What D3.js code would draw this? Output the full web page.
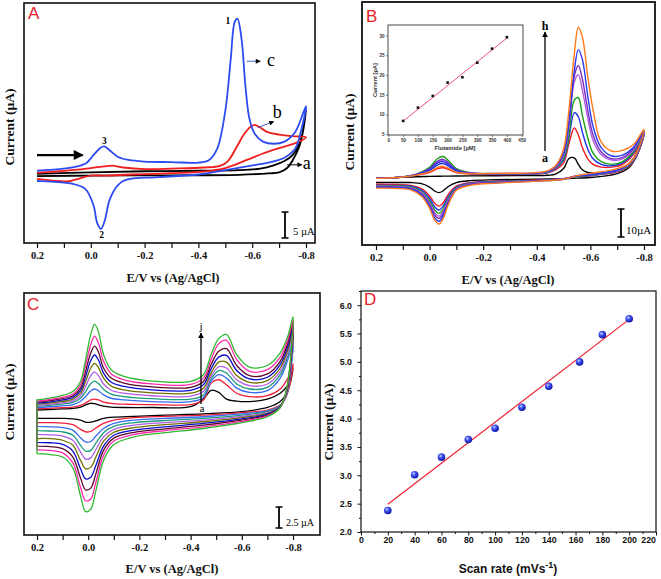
<!DOCTYPE html>
<html><head><meta charset="utf-8">
<script src="https://cdn.jsdelivr.net/npm/d3@7"></script>
<style>body{margin:0;background:#fff}svg{display:block}</style>
</head><body><svg id="c" width="661" height="579"></svg>
<script>
// ---------------- DATA ----------------
const cvTicks = [0.2, 0.1, 0, -0.1, -0.2, -0.3, -0.4, -0.5, -0.6, -0.7, -0.8];
const cvTickLabels = ["0.2", "0.0", "-0.2", "-0.4", "-0.6", "-0.8"];

// Panel A : [E (V), I (µA)] forward sweep then reverse sweep
const aCurveA = [[0.2,-0.2],[0.0,0.1],[-0.2,0.3],[-0.4,0.4],[-0.55,0.5],[-0.63,0.8],[-0.68,1.4],[-0.72,2.2],[-0.75,3.3],[-0.78,6.0],[-0.8,11.7],
  [-0.79,8.0],[-0.775,4.9],[-0.75,2.3],[-0.73,0.9],[-0.7,0.1],[-0.66,-0.1],[-0.55,-0.35],[-0.3,-0.45],[0.0,-0.5],[0.2,-0.6]];
const aCurveB = [[0.2,0.0],[0.12,0.3],[0.05,0.6],[0.0,0.9],[-0.05,1.2],[-0.08,1.35],[-0.12,1.0],[-0.2,0.7],[-0.3,0.8],[-0.42,1.0],[-0.48,1.3],[-0.51,2.2],[-0.54,4.6],[-0.57,7.2],[-0.595,8.6],[-0.61,8.9],[-0.63,8.4],[-0.655,7.6],[-0.7,7.1],[-0.75,6.8],[-0.8,6.6],
  [-0.77,5.7],[-0.7,4.6],[-0.64,3.6],[-0.58,2.4],[-0.5,0.9],[-0.42,0.25],[-0.3,-0.05],[-0.15,-0.3],[-0.05,-0.5],[0.0,-0.5],[0.04,-1.0],[0.08,-1.55],[0.12,-1.5],[0.2,-1.1]];
const aCurveC = [[0.2,0.4],[0.1,0.8],[0.05,1.2],[0.015,1.9],[-0.01,3.3],[-0.035,4.6],[-0.05,4.9],[-0.07,4.2],[-0.1,3.0],[-0.14,2.4],[-0.2,2.1],[-0.3,2.0],[-0.4,1.9],[-0.44,2.4],[-0.47,4.5],[-0.5,11.5],[-0.52,21],[-0.535,28],[-0.545,28.6],[-0.56,25],[-0.575,16],[-0.59,10],[-0.61,7.2],[-0.64,5.8],[-0.68,5.4],[-0.72,5.8],[-0.76,7.6],[-0.8,12.4],
  [-0.78,7.5],[-0.76,4.5],[-0.72,2.8],[-0.66,1.9],[-0.58,1.2],[-0.5,0.5],[-0.4,-0.3],[-0.25,-0.8],[-0.13,-1.3],[-0.1,-2.3],[-0.07,-5.0],[-0.052,-8.8],[-0.038,-10.4],[-0.024,-9.3],[-0.01,-6.0],[0.02,-3.0],[0.07,-2.0],[0.2,-1.5]];

// Panel B : 8 concentrations a..h, shared potential grids
const bLabels = ["a","b","c","d","e","f","g","h"];
const bEf = [0.2,0.12,0.05,0.0,-0.03,-0.05,-0.07,-0.1,-0.15,-0.25,-0.38,-0.44,-0.47,-0.5,-0.52,-0.54,-0.555,-0.57,-0.59,-0.61,-0.64,-0.68,-0.72,-0.76,-0.8];
const bFwd = [
  [-0.5,-0.2,0.1,0.2,0.25,0.3,0.3,0.35,0.4,0.45,0.5,0.6,1.0,3.0,6.6,6.8,4.5,2.6,1.6,1.4,1.4,1.8,3.0,6.5,15],
  [-0.5,-0.2,0.6,1.65,3.0,3.3,2.7,1.55,1.05,0.9,1.0,1.5,2.5,5,12,17.5,15,10.5,6.5,4.5,3.5,3.5,4.5,8,15],
  [-0.5,-0.2,0.75,2.3,4.35,4.8,3.9,2.1,1.25,1.0,1.1,1.6,3,6,14,23,21.5,16,10,6.5,4.5,4,5,8.5,15.5],
  [-0.5,-0.2,1.0,3.45,6.6,7.3,5.9,2.95,1.55,1.1,1.2,1.7,3.2,6.5,15,27.5,28.3,22,14,8.5,5.5,4.5,5.5,9,15.5],
  [-0.5,-0.2,0.85,2.8,5.25,5.8,4.7,2.45,1.4,1.15,1.25,1.8,3.4,7.5,18,34,36.5,31,21,13,8,6,6.5,9.5,16],
  [-0.5,-0.2,0.9,3.0,5.7,6.3,5.1,2.6,1.45,1.2,1.3,1.9,3.6,8,19,36,39.8,35,24,15,9,6.5,7,10,16],
  [-0.5,-0.2,0.8,2.65,5.0,5.5,4.45,2.3,1.35,1.25,1.35,2.0,3.8,8.5,20,38,45.5,42,29,18,10.5,7.5,7.8,10.5,16.5],
  [-0.5,-0.2,0.65,1.9,3.45,3.8,3.1,1.7,1.2,1.3,1.45,2.2,4,10,24,44,53.5,50,36,24,12.5,9.2,9.5,11.5,17]
];
const bEr = [-0.8,-0.77,-0.74,-0.7,-0.65,-0.6,-0.55,-0.5,-0.4,-0.25,-0.15,-0.1,-0.07,-0.05,-0.035,-0.02,0.0,0.03,0.07,0.12,0.2];
const bRev = [
  [15,7,3,1.2,0.3,-0.2,-0.4,-0.6,-0.8,-1.0,-1.3,-2.0,-3.4,-5.0,-5.6,-5.1,-3.6,-2.4,-2.0,-2.0,-2.0],
  [15,7,3.5,1.8,1.0,0.4,0.2,-0.6,-1.1,-1.5,-2.0,-3.3,-6.2,-9.3,-10.4,-9.5,-6.8,-4.2,-3.0,-2.7,-2.6],
  [15.5,7.2,3.7,2.0,1.1,0.5,0.3,-0.6,-1.2,-1.6,-2.2,-3.6,-7.0,-10.5,-11.8,-10.8,-7.7,-4.7,-3.3,-3.0,-2.9],
  [15.5,7.4,3.8,2.1,1.2,0.6,0.3,-0.7,-1.3,-1.75,-2.4,-3.9,-7.7,-11.6,-13.0,-11.9,-8.5,-5.2,-3.6,-3.2,-3.1],
  [16,7.6,4.0,2.2,1.3,0.7,0.4,-0.7,-1.35,-1.85,-2.5,-4.1,-8.2,-12.4,-14.0,-12.9,-9.2,-5.6,-3.8,-3.4,-3.3],
  [16,7.7,4.1,2.3,1.4,0.75,0.4,-0.75,-1.4,-1.95,-2.65,-4.3,-8.7,-13.1,-14.8,-13.7,-9.8,-6.0,-4.1,-3.6,-3.5],
  [16.5,7.9,4.3,2.5,1.5,0.8,0.45,-0.8,-1.45,-2.05,-2.8,-4.5,-9.2,-14.0,-15.8,-14.7,-10.5,-6.4,-4.3,-3.8,-3.7],
  [17,8,4.5,3.0,2.0,1.3,0.5,-0.8,-1.5,-2.2,-3.0,-4.7,-9.8,-15.0,-16.8,-15.6,-11.2,-6.9,-4.6,-4.1,-4.0]
];
// Inset of B
const flutamide = [50,100,150,200,250,300,350,400];
const insetCurrent = [8.37,11.74,14.7,18.1,19.45,23.15,26.7,29.6];
const insetFitX = [50,400];
const insetFitY = [8.3,29.4];
const insetXTicks = [0,50,100,150,200,250,300,350,400,450];
const insetYTicks = [5,10,15,20,25,30];

// Panel C : 10 scan rates a..j
const cLabels = ["a","b","c","d","e","f","g","h","i","j"];
const cEf = [0.2,0.12,0.06,0.03,0.01,-0.01,-0.025,-0.04,-0.06,-0.09,-0.14,-0.25,-0.4,-0.45,-0.48,-0.51,-0.54,-0.58,-0.63,-0.7,-0.75,-0.78,-0.8];
const cFwd = [
  [0,0.1,0.2,0.35,0.6,0.8,0.75,0.6,0.45,0.35,0.3,0.3,0.4,1.3,2.35,2.1,1.3,1.05,1.0,1.3,2.0,3.0,5.0],
  [0.15,0.25,0.35,0.55,0.85,1.2,1.3,1.2,0.95,0.8,0.7,0.65,0.65,1.2,3.2,3.6,3.0,2.0,1.6,1.7,2.5,3.8,5.5],
  [0.3,0.45,0.65,1.05,1.6,2.3,2.5,2.3,1.8,1.4,1.2,1.0,1.0,1.5,3.4,4.2,3.8,2.6,2.1,2.3,3.8,6.0,8.0],
  [0.45,0.65,0.9,1.4,2.2,3.15,3.45,3.15,2.45,1.9,1.6,1.35,1.3,1.8,3.7,4.7,4.4,3.1,2.5,2.7,4.2,6.4,8.5],
  [0.55,0.8,1.1,1.7,2.8,4.1,4.5,4.1,3.1,2.35,2.0,1.7,1.65,2.2,4.0,5.15,5.0,3.6,2.9,3.1,4.6,6.8,9.0],
  [0.7,0.95,1.3,2.0,3.4,5.0,5.55,5.05,3.8,2.85,2.4,2.05,2.0,2.6,4.4,5.7,5.7,4.1,3.3,3.5,5.0,7.2,9.5],
  [0.8,1.1,1.5,2.3,4.0,5.9,6.55,5.95,4.4,3.3,2.8,2.4,2.35,3.0,4.9,6.3,6.5,4.7,3.7,3.9,5.4,7.6,10.0],
  [0.95,1.25,1.7,2.6,4.6,6.8,7.6,6.9,5.0,3.8,3.2,2.75,2.7,3.4,5.4,7.0,7.3,5.3,4.1,4.3,5.8,8.0,10.3],
  [1.05,1.4,1.9,3.0,5.3,7.8,8.8,8.0,5.8,4.3,3.6,3.1,3.05,3.8,6.0,7.9,8.3,6.0,4.6,4.8,6.3,8.4,10.7],
  [1.2,1.6,2.2,3.4,6.0,9.0,10.2,9.3,6.6,4.8,4.0,3.45,3.4,4.2,6.6,8.5,9.0,6.6,5.1,5.3,6.8,8.8,11.1]
];
const cEr = [-0.8,-0.79,-0.775,-0.75,-0.7,-0.6,-0.45,-0.3,-0.18,-0.1,-0.06,-0.03,-0.01,0.01,0.03,0.06,0.1,0.15,0.2];
const cRev = [
  [5.0,3.3,2.0,1.0,0.3,-0.2,-0.45,-0.6,-0.75,-0.85,-1.0,-1.3,-1.45,-1.45,-1.2,-1.05,-1.0,-1.0,-1.0],
  [5.5,3.4,1.7,0.6,0.0,-0.3,-0.6,-0.75,-0.9,-1.2,-1.6,-2.15,-2.55,-2.6,-2.3,-1.75,-1.55,-1.5,-1.5],
  [8.0,4.4,1.8,0.55,-0.1,-0.45,-0.8,-1.0,-1.2,-1.6,-2.2,-3.1,-3.75,-3.8,-3.3,-2.4,-2.1,-2.0,-1.95],
  [8.5,4.7,1.9,0.5,-0.2,-0.6,-1.0,-1.25,-1.5,-1.95,-2.7,-3.95,-4.8,-4.9,-4.2,-3.0,-2.6,-2.5,-2.45],
  [9.0,5.0,2.0,0.45,-0.3,-0.75,-1.2,-1.5,-1.8,-2.3,-3.2,-4.7,-5.7,-5.85,-5.0,-3.6,-3.1,-2.95,-2.9],
  [9.5,5.2,2.1,0.4,-0.4,-0.9,-1.4,-1.75,-2.1,-2.65,-3.7,-5.6,-6.8,-7.0,-6.0,-4.2,-3.6,-3.4,-3.4],
  [10.0,5.4,2.2,0.4,-0.5,-1.05,-1.6,-2.0,-2.4,-3.0,-4.3,-6.6,-8.0,-8.2,-7.0,-4.9,-4.1,-3.9,-3.85],
  [10.3,5.6,2.3,0.35,-0.6,-1.2,-1.8,-2.25,-2.65,-3.35,-4.8,-7.6,-9.3,-9.5,-8.1,-5.6,-4.6,-4.35,-4.3],
  [10.7,5.8,2.4,0.3,-0.7,-1.35,-2.0,-2.45,-2.9,-3.7,-5.4,-8.6,-10.6,-10.8,-9.2,-6.3,-5.1,-4.8,-4.75],
  [11.1,6.0,2.5,0.3,-0.8,-1.5,-2.2,-2.7,-3.2,-4.1,-6.0,-9.6,-11.8,-12.1,-10.2,-6.9,-5.6,-5.3,-5.2]
];

// Panel D
const scanRate = [20,40,60,80,100,120,140,163,180,200];
const peakCurrent = [2.38,3.01,3.32,3.63,3.83,4.20,4.57,5.00,5.48,5.76];
const fitX = [20,200];
const fitY = [2.49,5.75];
const dXTicks = [0,20,40,60,80,100,120,140,160,180,200,220];
const dYTicks = [2.0,2.5,3.0,3.5,4.0,4.5,5.0,5.5,6.0];

// ---------------- STYLES ----------------
const serif = "'Liberation Serif','Times New Roman',serif";
const sans = "'Liberation Sans',Arial,sans-serif";
const aColors = {a:"#000000", b:"#F01E1E", c:"#2D4CF0"};
const bColors = ["#000000","#F01C24","#2233EE","#16A016","#B060E0","#7A2FC0","#2A3AF0","#FF7A1A"];
const cColors = ["#000000","#F0203C","#3A6AF0","#1C9C7C","#B25CE6","#707000","#0A0ACC","#5A0A2A","#FF2AA8","#2EB82E"];

const svg = d3.select("#c");
const defs = svg.append("defs");
function marker(id, color, w, h) {
  defs.append("marker").attr("id", id).attr("viewBox","0 0 10 10").attr("refX",9).attr("refY",5)
    .attr("markerWidth", w).attr("markerHeight", h).attr("orient","auto").attr("markerUnits","userSpaceOnUse")
    .append("path").attr("d","M0,0L10,5L0,10Z").attr("fill", color);
}
marker("arrBig","#000",12,10);
marker("arrSm","#000",6,5);
marker("arrUp","#000",6,7);

function cvPanel(p) {
  const x = d3.scaleLinear().domain([0.2,-0.8]).range([p.xa, p.xb]);
  const y = d3.scaleLinear().domain(p.ydom).range([p.y1, p.y0]);
  defs.append("clipPath").attr("id","clip"+p.name).append("rect")
    .attr("x",p.x0).attr("y",p.y0).attr("width",p.x1-p.x0).attr("height",p.y1-p.y0);
  const ax = d3.axisBottom(x).tickValues(cvTicks).tickSize(5).tickPadding(3.5)
    .tickFormat((d,i) => i % 2 === 0 ? cvTickLabels[i/2] : "");
  const ga = svg.append("g").attr("transform",`translate(0,${p.y1})`).call(ax);
  ga.select(".domain").remove();
  ga.selectAll("line").attr("stroke","#111").attr("stroke-width",1.2);
  ga.selectAll("text").attr("font-family",serif).attr("font-weight","bold").attr("font-size",10.5).attr("fill","#111");
  svg.append("text").attr("x",p.tx).attr("y",p.ty).attr("text-anchor","middle")
    .attr("font-family",serif).attr("font-weight","bold").attr("font-size",12.5).attr("fill","#111")
    .text("E/V vs (Ag/AgCl)");
  svg.append("text").attr("transform",`translate(${p.yx},${p.yy}) rotate(-90)`).attr("text-anchor","middle")
    .attr("font-family",serif).attr("font-weight","bold").attr("font-size",13.5).attr("fill","#111")
    .text("Current (\u00B5A)");
  const g = svg.append("g").attr("clip-path",`url(#clip${p.name})`);
  return {x, y, g};
}
function frame(p, w) {
  svg.append("rect").attr("x",p.x0).attr("y",p.y0).attr("width",p.x1-p.x0).attr("height",p.y1-p.y0)
    .attr("fill","none").attr("stroke","#111").attr("stroke-width",w);
}
function letter(t, xx, yy) {
  svg.append("text").attr("x",xx).attr("y",yy).attr("font-family",sans).attr("font-size",17)
    .attr("fill","#E8202A").text(t);
}
function scaleBar(xx, ya, yb, label, tx, ty, fs) {
  svg.append("line").attr("x1",xx).attr("x2",xx).attr("y1",ya).attr("y2",yb).attr("stroke","#000").attr("stroke-width",1.8);
  [ya,yb].forEach(v => svg.append("line").attr("x1",xx-3.5).attr("x2",xx+3.5).attr("y1",v).attr("y2",v).attr("stroke","#000").attr("stroke-width",1.5));
  svg.append("text").attr("x",tx).attr("y",ty).attr("font-family",serif).attr("font-size",fs).attr("fill","#000").text(label);
}
function txt(t, xx, yy, fs, opts={}) {
  return svg.append("text").attr("x",xx).attr("y",yy).attr("text-anchor",opts.anchor||"middle")
    .attr("font-family",opts.family||serif).attr("font-weight",opts.bold?"bold":"normal")
    .attr("font-size",fs).attr("fill",opts.fill||"#000").text(t);
}

// ---------------- PANEL A ----------------
const pA = {name:"A", x0:24, x1:315, y0:3, y1:243, xa:37, xb:306, ydom:[-13,31.5], tx:173, ty:282, yx:14, yy:127};
const A = cvPanel(pA);
const lineA = d3.line().x(d=>A.x(d[0])).y(d=>A.y(d[1])).curve(d3.curveCatmullRom.alpha(0.5));
[["a",aCurveA],["b",aCurveB],["c",aCurveC]].forEach(([k,data]) => {
  A.g.append("path").attr("d",lineA(data)).attr("fill","none").attr("stroke",aColors[k]).attr("stroke-width",1.8);
});
frame(pA, 1.6);
letter("A", 28, 19);
txt("1", A.x(-0.51), A.y(27.6), 9.5, {bold:true});
txt("3", A.x(-0.05), A.y(5.3), 9.5, {bold:true});
txt("2", A.x(-0.04), A.y(-12.0), 9.5, {bold:true});
svg.append("line").attr("x1",A.x(-0.58)).attr("x2",A.x(-0.63)).attr("y1",A.y(20.7)).attr("y2",A.y(20.7)).attr("stroke","#4060D0").attr("stroke-width",1).attr("marker-end","url(#arrSm)");
txt("c", A.x(-0.655), A.y(20.7)+5, 18, {anchor:"start"});
svg.append("line").attr("x1",A.x(-0.62)).attr("x2",A.x(-0.68)).attr("y1",A.y(8.4)).attr("y2",A.y(9.5)).attr("stroke","#4060D0").attr("stroke-width",1).attr("marker-end","url(#arrSm)");
txt("b", A.x(-0.676), A.y(10.2), 18, {anchor:"start"});
svg.append("line").attr("x1",A.x(-0.73)).attr("x2",A.x(-0.785)).attr("y1",A.y(1.5)).attr("y2",A.y(1.5)).attr("stroke","#000").attr("stroke-width",1).attr("marker-end","url(#arrSm)");
txt("a", A.x(-0.788), A.y(1.5)+4, 18, {anchor:"start"});
svg.append("line").attr("x1",A.x(0.2)).attr("x2",A.x(0.03)).attr("y1",A.y(3.3)).attr("y2",A.y(3.3)).attr("stroke","#000").attr("stroke-width",2.2).attr("marker-end","url(#arrBig)");
scaleBar(285, 212, 238, "5 \u00B5A", 293, 235, 10.5);

// ---------------- PANEL B ----------------
const pB = {name:"B", x0:362, x1:655, y0:2, y1:245, xa:376, xb:644, ydom:[-24.3,62.5], tx:508, ty:284, yx:354, yy:132};
const B = cvPanel(pB);
const lineB = d3.line().x(d=>B.x(d[0])).y(d=>B.y(d[1])).curve(d3.curveCatmullRom.alpha(0.5));
bLabels.forEach((lab,k) => {
  const pts = bEf.map((e,i)=>[e,bFwd[k][i]]).concat(bEr.slice(1).map((e,i)=>[e,bRev[k][i+1]]));
  B.g.append("path").attr("d",lineB(pts)).attr("fill","none").attr("stroke",bColors[k]).attr("stroke-width",1.4);
});
frame(pB, 1.8);
letter("B", 366, 22);
svg.append("line").attr("x1",545).attr("x2",545).attr("y1",151).attr("y2",32).attr("stroke","#000").attr("stroke-width",1.3).attr("marker-end","url(#arrUp)");
txt("h", 545, 30, 12, {bold:true});
txt("a", 545, 162, 12, {bold:true});
scaleBar(621, 209, 237, "10\u00B5A", 626, 234, 11);

// inset
const pI = {x0:388, x1:523, y0:25, y1:135};
const ix = d3.scaleLinear().domain([0,450]).range([388.3,521.7]);
const iy = d3.scaleLinear().domain([4.8,32.7]).range([135,25]);
svg.append("rect").attr("x",pI.x0).attr("y",pI.y0).attr("width",pI.x1-pI.x0).attr("height",pI.y1-pI.y0).attr("fill","#fff").attr("stroke","#333").attr("stroke-width",0.9);
const gix = svg.append("g").attr("transform",`translate(0,${pI.y1})`).call(d3.axisBottom(ix).tickValues(insetXTicks).tickSize(2).tickPadding(1.5));
const giy = svg.append("g").attr("transform",`translate(${pI.x0},0)`).call(d3.axisLeft(iy).tickValues(insetYTicks).tickSize(2).tickPadding(1.5));
[gix,giy].forEach(g => { g.select(".domain").remove(); g.selectAll("line").attr("stroke","#333").attr("stroke-width",0.6);
  g.selectAll("text").attr("font-family",sans).attr("font-weight","bold").attr("font-size",4.6).attr("fill","#333"); });
svg.append("path").attr("d", d3.line().x(d=>ix(d[0])).y(d=>iy(d[1]))(insetFitX.map((v,i)=>[v,insetFitY[i]])))
  .attr("stroke","#F0507C").attr("stroke-width",1).attr("fill","none");
svg.append("g").selectAll("rect").data(flutamide).join("rect")
  .attr("x",(d)=>ix(d)-1.3).attr("y",(d,i)=>iy(insetCurrent[i])-1.3).attr("width",2.6).attr("height",2.6).attr("fill","#111");
txt("Flutamide [\u00B5M]", 455, 150, 5.8, {bold:true, family:sans, fill:"#333"});
svg.append("text").attr("transform","translate(377,80) rotate(-90)").attr("text-anchor","middle")
  .attr("font-family",sans).attr("font-weight","bold").attr("font-size",5.8).attr("fill","#333").text("Current [\u00B5A]");

// ---------------- PANEL C ----------------
const pC = {name:"C", x0:24, x1:320, y0:293, y1:535, xa:37, xb:293, ydom:[-14.88,13.93], tx:172, ty:573, yx:14, yy:402};
const C = cvPanel(pC);
const lineC = d3.line().x(d=>C.x(d[0])).y(d=>C.y(d[1])).curve(d3.curveCatmullRom.alpha(0.5));
cLabels.forEach((lab,k) => {
  const pts = cEf.map((e,i)=>[e,cFwd[k][i]]).concat(cEr.slice(1).map((e,i)=>[e,cRev[k][i+1]]));
  C.g.append("path").attr("d",lineC(pts)+"Z").attr("fill","none").attr("stroke",cColors[k]).attr("stroke-width",1.3);
});
frame(pC, 1.6);
letter("C", 27, 310);
svg.append("line").attr("x1",201).attr("x2",201).attr("y1",404).attr("y2",333).attr("stroke","#000").attr("stroke-width",1.3).attr("marker-end","url(#arrUp)");
txt("j", 201, 330, 11);
txt("a", 202, 412, 11);
scaleBar(279, 507, 528, "2.5 \u00B5A", 286, 526, 10);

// ---------------- PANEL D ----------------
const pD = {x0:361, x1:656, y0:291, y1:532};
const dx = d3.scaleLinear().domain([0,220]).range([361,656]);
const dy = d3.scaleLinear().domain([2,6.25]).range([532,291]);
const minorX = d3.range(10,220,20);
const minorY = [2.25,2.75,3.25,3.75,4.25,4.75,5.25,5.75,6.25];
const gdx = svg.append("g").attr("transform",`translate(0,${pD.y1})`).call(d3.axisBottom(dx).tickValues(dXTicks).tickSize(3.5).tickPadding(1.5).tickFormat(d=>String(d)));
const gdy = svg.append("g").attr("transform",`translate(${pD.x0},0)`).call(d3.axisLeft(dy).tickValues(dYTicks).tickSize(3.5).tickPadding(5.5).tickFormat(d=>d.toFixed(1)));
const gdx2 = svg.append("g").attr("transform",`translate(0,${pD.y1})`).call(d3.axisBottom(dx).tickValues(minorX).tickSize(2).tickFormat(""));
const gdy2 = svg.append("g").attr("transform",`translate(${pD.x0},0)`).call(d3.axisLeft(dy).tickValues(minorY).tickSize(2).tickFormat(""));
[gdx,gdy,gdx2,gdy2].forEach(g => { g.select(".domain").remove(); g.selectAll("line").attr("stroke","#111").attr("stroke-width",1);
  g.selectAll("text").attr("font-family",sans).attr("font-weight","bold").attr("font-size",8.8).attr("fill","#111"); });
gdx.selectAll(".tick").filter(d => d === 220).select("text").attr("text-anchor","end").attr("x",-0.5);
svg.append("rect").attr("x",pD.x0).attr("y",pD.y0).attr("width",pD.x1-pD.x0).attr("height",pD.y1-pD.y0).attr("fill","none").attr("stroke","#111").attr("stroke-width",1.2);
const grad = defs.append("radialGradient").attr("id","ball").attr("cx","38%").attr("cy","35%").attr("r","65%");
grad.append("stop").attr("offset","0%").attr("stop-color","#d8e2ff");
grad.append("stop").attr("offset","35%").attr("stop-color","#4a5cf5");
grad.append("stop").attr("offset","100%").attr("stop-color","#0c12a8");
svg.append("path").attr("d", d3.line().x(d=>dx(d[0])).y(d=>dy(d[1]))(fitX.map((v,i)=>[v,fitY[i]])))
  .attr("stroke","#F02030").attr("stroke-width",1.2).attr("fill","none");
svg.append("g").selectAll("circle").data(scanRate).join("circle")
  .attr("cx",d=>dx(d)).attr("cy",(d,i)=>dy(peakCurrent[i])).attr("r",3.8).attr("fill","url(#ball)");
letter("D", 364, 305);
const xt = svg.append("text").attr("x",508).attr("y",573).attr("text-anchor","middle").attr("font-family",sans).attr("font-weight","bold").attr("font-size",12).attr("fill","#111");
xt.append("tspan").text("Scan rate (mVs");
xt.append("tspan").attr("dy",-5).attr("font-size",9).text("-1");
xt.append("tspan").attr("dy",5).text(")");
svg.append("text").attr("transform","translate(333,422) rotate(-90)").attr("text-anchor","middle")
  .attr("font-family",serif).attr("font-weight","bold").attr("font-size",13.5).attr("fill","#111").text("Current (\u00B5A)");
</script></body></html>
